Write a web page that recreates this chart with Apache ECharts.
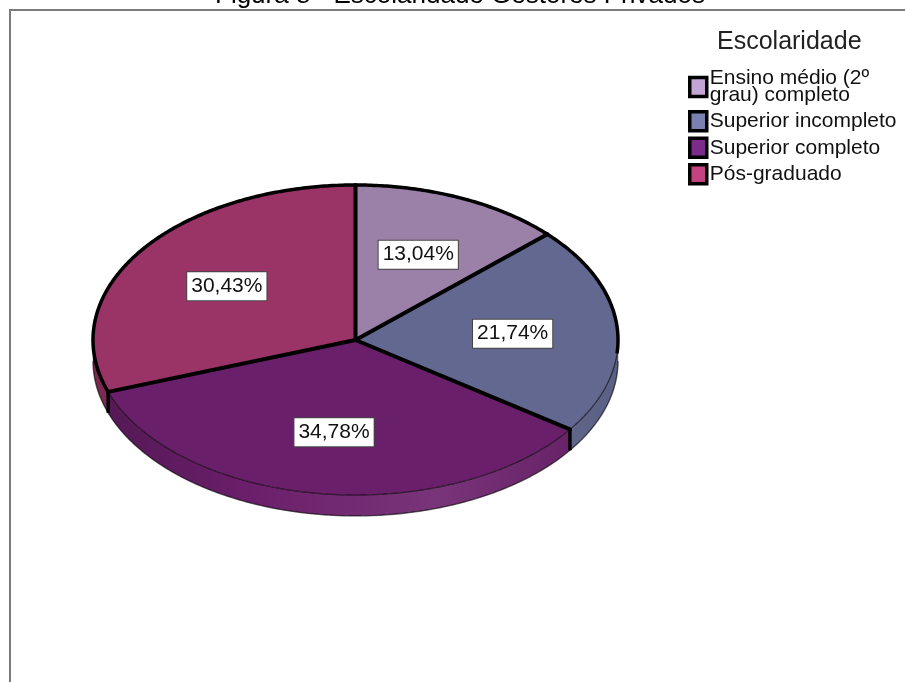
<!DOCTYPE html>
<html>
<head>
<meta charset="utf-8">
<script src="https://cdn.jsdelivr.net/npm/echarts@6/dist/echarts.min.js"></script>
<style>
  html, body { margin: 0; padding: 0; background: #ffffff; }
  #chart { width: 905px; height: 682px; }
</style>
</head>
<body>
<div id="chart"></div>
<script>
// Escolaridade dos gestores privados (percentual de respondentes)
const categories = ['Ensino médio (2º grau) completo', 'Superior incompleto', 'Superior completo', 'Pós-graduado'];
const percentages = [13.04, 21.74, 34.78, 30.43];
const faceColors = ['#9b80a8', '#626890', '#6a1f6a', '#9b3466'];
const swatchColors = ['#c3a5d3', '#7a80b0', '#7b2b8a', '#c4427f'];

const FONT = 'Liberation Sans, Arial, sans-serif';
const TAU = Math.PI * 2;
const DEPTH = 0.135;          // thickness of the disc, in y-axis units
const LABEL_R = 0.6;          // label distance from the centre, as a share of the radius
const THICK_END = 95 / 360 * TAU;    // rim drawn with a heavy outline outside the front arc
const THICK_START = 250 / 360 * TAU;

const total = percentages.reduce((a, b) => a + b, 0);
const starts = [];
let acc = 0;
percentages.forEach(v => { starts.push(acc / total); acc += v; });

function shade(hex, k) {
  const n = parseInt(hex.slice(1), 16);
  const ch = [n >> 16, (n >> 8) & 255, n & 255].map(c =>
    k < 0 ? Math.round(c * (1 + k)) : Math.round(c + (255 - c) * k));
  return 'rgb(' + ch.join(',') + ')';
}

function overlap(a0, a1, b0, b1) {
  const s = Math.max(a0, b0), e = Math.min(a1, b1);
  return e > s ? [s, e] : null;
}

function renderSlice(i) {
  return function (params, api) {
    const a0 = starts[i] * TAU;
    const a1 = a0 + api.value(2) / total * TAU;
    const top = a => api.coord([Math.sin(a), Math.cos(a)]);
    const bot = a => api.coord([Math.sin(a), Math.cos(a) - DEPTH]);
    const arc = (f, from, to) => {
      const n = Math.max(2, Math.ceil((to - from) / 0.01));
      const pts = [];
      for (let k = 0; k <= n; k++) pts.push(f(from + (to - from) * k / n));
      return pts;
    };
    const centre = api.coord([0, 0]);
    const leftX = api.coord([-1, 0])[0];
    const rightX = api.coord([1, 0])[0];
    const children = [];
    const face = faceColors[i];

    // side wall of the disc (front half only)
    const side = overlap(a0, a1, Math.PI / 2, Math.PI * 1.5);
    if (side) {
      const upper = arc(top, side[0], side[1]);
      const lower = arc(bot, side[0], side[1]);
      children.push({
        type: 'polygon', z2: 1,
        shape: { points: upper.concat(lower.slice().reverse()) },
        style: {
          fill: {
            type: 'linear', global: true, x: leftX, y: 0, x2: rightX, y2: 0,
            colorStops: [
              { offset: 0, color: shade(face, -0.22) },
              { offset: 0.3, color: shade(face, 0) },
              { offset: 0.65, color: shade(face, 0.1) },
              { offset: 1, color: shade(face, -0.08) }
            ]
          },
          stroke: 'rgba(0,0,0,0.25)', lineWidth: 1
        }
      });
      children.push({
        type: 'polyline', z2: 2,
        shape: { points: lower },
        style: { stroke: 'rgba(0,0,0,0.5)', lineWidth: 1.4, fill: null }
      });
    }

    // top face
    children.push({
      type: 'polygon', z2: 3,
      shape: { points: [centre].concat(arc(top, a0, a1)) },
      style: { fill: face }
    });

    // thin rim along the front edge
    const front = overlap(a0, a1, THICK_END, THICK_START);
    if (front) {
      children.push({
        type: 'polyline', z2: 4,
        shape: { points: arc(top, front[0], front[1]) },
        style: { stroke: 'rgba(0,0,0,0.6)', lineWidth: 1.2, fill: null }
      });
    }
    // heavy outline along the back edge
    [overlap(a0, a1, 0, THICK_END), overlap(a0, a1, THICK_START, TAU)].forEach(seg => {
      if (!seg) return;
      children.push({
        type: 'polyline', z2: 9,
        shape: { points: arc(top, seg[0], seg[1]) },
        style: { stroke: '#000', lineWidth: 3.5, fill: null, lineJoin: 'round' }
      });
    });

    // slice boundary at the start angle
    const p0 = top(a0);
    children.push({
      type: 'line', z2: 10,
      shape: { x1: centre[0], y1: centre[1], x2: p0[0], y2: p0[1] },
      style: { stroke: '#000', lineWidth: 4, lineCap: 'round' }
    });
    if (Math.cos(a0) < 0) {
      const q0 = bot(a0);
      children.push({
        type: 'line', z2: 10,
        shape: { x1: p0[0], y1: p0[1], x2: q0[0], y2: q0[1] },
        style: { stroke: '#000', lineWidth: 3.5 }
      });
    }

    // percentage label
    const mid = (a0 + a1) / 2;
    const lp = api.coord([LABEL_R * Math.sin(mid), LABEL_R * Math.cos(mid)]);
    children.push({
      type: 'text', z2: 20,
      x: lp[0], y: lp[1],
      style: {
        text: api.value(2).toFixed(2).replace('.', ',') + '%',
        fill: '#111', font: '21px ' + FONT,
        align: 'center', verticalAlign: 'middle',
        backgroundColor: '#ffffff', borderColor: '#444', borderWidth: 1,
        padding: [4, 4, 3, 4]
      }
    });

    return { type: 'group', children: children };
  };
}

const chart = echarts.init(document.getElementById('chart'));
chart.setOption({
  animation: false,
  backgroundColor: '#ffffff',
  title: [
    {
      text: 'Figura 8 - Escolaridade Gestores Privados',
      left: 215, top: -17, padding: 0,
      textStyle: { fontFamily: FONT, fontSize: 26, fontWeight: 'normal', color: '#000' }
    },
    {
      text: 'Escolaridade',
      left: 717, top: 30, padding: 0,
      textStyle: { fontFamily: FONT, fontSize: 25, fontWeight: 'normal', color: '#222' }
    }
  ],
  legend: {
    orient: 'vertical', left: 688, top: 68, padding: 0,
    icon: 'rect', itemWidth: 17, itemHeight: 19, itemGap: 4,
    selectedMode: false,
    data: categories.map((n, i) => ({
      name: n,
      itemStyle: { color: swatchColors[i], borderColor: '#000', borderWidth: 3.5 }
    })),
    formatter: n => n.replace(' grau)', '\ngrau)'),
    textStyle: { fontFamily: FONT, fontSize: 21, lineHeight: 17, color: '#111', padding: [0, 0, 0, -2] }
  },
  graphic: [
    { type: 'line', shape: { x1: 10, y1: 10, x2: 905, y2: 10 }, style: { stroke: '#7a7a7a', lineWidth: 2 } },
    { type: 'line', shape: { x1: 10, y1: 9, x2: 10, y2: 682 }, style: { stroke: '#7a7a7a', lineWidth: 2 } }
  ],
  grid: { left: 93, right: 287, top: 185, bottom: 187 },
  xAxis: { type: 'value', min: -1, max: 1, show: false },
  yAxis: { type: 'value', min: -1, max: 1, show: false },
  series: categories.map((name, i) => ({
    type: 'custom',
    name: name,
    coordinateSystem: 'cartesian2d',
    itemStyle: { color: swatchColors[i] },
    renderItem: renderSlice(i),
    data: [[0, 0, percentages[i]]],
    z: 2
  }))
});
</script>
</body>
</html>
